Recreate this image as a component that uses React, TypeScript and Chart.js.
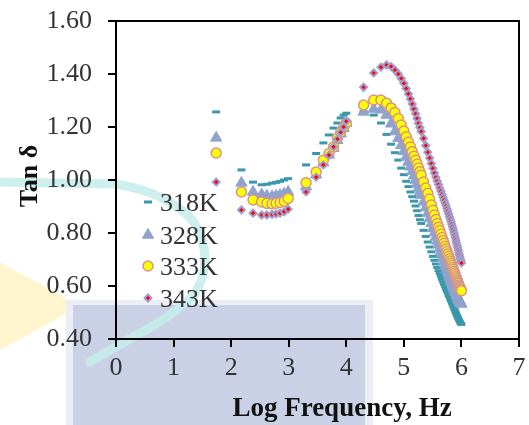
import React, { useEffect, useRef } from 'react';
import { Chart, registerables } from 'chart.js';

Chart.register(...registerables);

// Measurement frequencies (Hz)
const freqHz = [
  55, 151, 240, 339, 417, 513, 603, 708, 832, 977,
  2000, 3000, 4000, 5000, 6000, 7000, 8000, 9000, 10000,
  20000, 30000, 40000, 50000, 60000, 70000, 80000, 90000, 100000, 110000,
  120000, 130000, 140000, 150000, 160000, 170000, 180000, 190000, 200000,
  220000, 240000, 260000, 280000, 300000, 320000, 340000, 360000, 380000, 400000,
  420000, 440000, 460000, 480000, 500000, 520000, 540000, 560000, 580000, 600000,
  620000, 640000, 660000, 680000, 700000, 720000, 740000, 760000, 780000, 800000,
  820000, 840000, 860000, 880000, 900000, 920000, 940000, 960000, 980000, 1000000,
];

const tan318 = [
  1.257, 1.038, 0.992, 0.982, 0.984, 0.988, 0.991, 0.995, 1.0, 1.005,
  1.057, 1.1, 1.14, 1.17, 1.196, 1.215, 1.234, 1.245, 1.252,
  1.258, 1.245, 1.215, 1.172, 1.135, 1.103, 1.075, 1.045, 1.02, 0.995,
  0.975, 0.955, 0.937, 0.92, 0.902, 0.884, 0.866, 0.85, 0.836,
  0.81, 0.787, 0.766, 0.747, 0.729, 0.712, 0.697, 0.683, 0.67, 0.658,
  0.647, 0.636, 0.625, 0.615, 0.606, 0.597, 0.588, 0.58, 0.572, 0.564,
  0.557, 0.55, 0.543, 0.536, 0.53, 0.523, 0.517, 0.511, 0.505, 0.499,
  0.493, 0.488, 0.483, 0.478, 0.473, 0.469, 0.465, 0.461, 0.458, 0.455,
];

const tan328 = [
  1.159, 0.989, 0.955, 0.945, 0.94, 0.938, 0.94, 0.943, 0.948, 0.955,
  0.975, 1.02, 1.065, 1.095, 1.12, 1.15, 1.175, 1.195, 1.215,
  1.257, 1.268, 1.265, 1.245, 1.212, 1.183, 1.157, 1.131, 1.108, 1.087,
  1.068, 1.05, 1.033, 1.016, 1.0, 0.985, 0.97, 0.956, 0.943,
  0.918, 0.896, 0.875, 0.855, 0.836, 0.818, 0.801, 0.785, 0.77, 0.756,
  0.743, 0.73, 0.718, 0.706, 0.695, 0.684, 0.674, 0.664, 0.655, 0.646,
  0.637, 0.629, 0.621, 0.614, 0.607, 0.6, 0.593, 0.587, 0.581, 0.575,
  0.569, 0.564, 0.559, 0.554, 0.549, 0.545, 0.541, 0.537, 0.534, 0.532,
];

const tan333 = [
  1.102, 0.955, 0.925, 0.917, 0.912, 0.91, 0.912, 0.915, 0.92, 0.93,
  0.99, 1.03, 1.075, 1.1, 1.125, 1.158, 1.18, 1.2, 1.215,
  1.283, 1.302, 1.302, 1.29, 1.272, 1.255, 1.232, 1.208, 1.185, 1.163,
  1.143, 1.125, 1.107, 1.09, 1.075, 1.06, 1.045, 1.031, 1.018,
  0.992, 0.97, 0.95, 0.928, 0.906, 0.886, 0.868, 0.851, 0.836, 0.822,
  0.809, 0.796, 0.783, 0.772, 0.761, 0.75, 0.74, 0.73, 0.721, 0.712,
  0.703, 0.694, 0.686, 0.678, 0.67, 0.663, 0.656, 0.649, 0.642, 0.635,
  0.628, 0.622, 0.616, 0.61, 0.604, 0.599, 0.594, 0.59, 0.586, 0.582,
];

const tan343 = [
  0.992, 0.887, 0.875, 0.868, 0.868, 0.87, 0.872, 0.875, 0.88, 0.89,
  0.955, 1.011, 1.057, 1.094, 1.125, 1.155, 1.18, 1.2, 1.222,
  1.35, 1.404, 1.426, 1.434, 1.428, 1.415, 1.4, 1.383, 1.365, 1.345,
  1.325, 1.306, 1.287, 1.268, 1.25, 1.232, 1.214, 1.198, 1.183,
  1.157, 1.13, 1.105, 1.083, 1.062, 1.044, 1.026, 1.01, 0.996, 0.983,
  0.97, 0.958, 0.946, 0.935, 0.924, 0.913, 0.903, 0.892, 0.882, 0.872,
  0.862, 0.852, 0.842, 0.833, 0.823, 0.813, 0.803, 0.793, 0.783, 0.773,
  0.763, 0.754, 0.745, 0.736, 0.727, 0.718, 0.709, 0.701, 0.694, 0.687,
];

const seriesLabels = ['318K', '328K', '333K', '343K'];
const xTitle = 'Log Frequency, Hz';
const yTitle = 'Tan δ';

const SERIF = '"Liberation Serif", "Times New Roman", serif';

const styles = [
  { pointStyle: 'line', radius: 4, bg: '#3A98AA', border: '#3A98AA', bw: 3 },
  { pointStyle: 'triangle', radius: 6.5, bg: '#8FA3CD', border: '#8FA3CD', bw: 1 },
  { pointStyle: 'circle', radius: 5, bg: '#FFFF00', border: '#D8948C', bw: 1.5 },
  { pointStyle: 'rectRot', radius: 3.5, bg: '#FF0000', border: '#A09CCB', bw: 2 },
];

function drawMarker(ctx: CanvasRenderingContext2D, s: any, x: number, y: number) {
  ctx.save();
  ctx.fillStyle = s.bg;
  ctx.strokeStyle = s.border;
  ctx.lineWidth = s.bw;
  ctx.beginPath();
  const r = s.radius;
  if (s.pointStyle === 'line') {
    ctx.moveTo(x - r, y);
    ctx.lineTo(x + r, y);
    ctx.stroke();
  } else if (s.pointStyle === 'triangle') {
    ctx.moveTo(x, y - r);
    ctx.lineTo(x + r * Math.sin(Math.PI * 2 / 3), y - r * Math.cos(Math.PI * 2 / 3));
    ctx.lineTo(x - r * Math.sin(Math.PI * 2 / 3), y - r * Math.cos(Math.PI * 2 / 3));
    ctx.closePath();
    ctx.fill();
    ctx.stroke();
  } else if (s.pointStyle === 'circle') {
    ctx.arc(x, y, r, 0, Math.PI * 2);
    ctx.fill();
    ctx.stroke();
  } else {
    ctx.moveTo(x - r, y);
    ctx.lineTo(x, y - r);
    ctx.lineTo(x + r, y);
    ctx.lineTo(x, y + r);
    ctx.closePath();
    ctx.fill();
    ctx.stroke();
  }
  ctx.restore();
}

const backgroundPlugin = {
  id: 'bgDecor',
  beforeDraw(chart: any) {
    const ctx = chart.ctx as CanvasRenderingContext2D;
    ctx.save();
    ctx.fillStyle = '#FFFFFF';
    ctx.fillRect(0, 0, chart.width, chart.height);
    // yellow triangle
    ctx.fillStyle = '#FFF6CF';
    ctx.beginPath();
    ctx.moveTo(0, 262);
    ctx.lineTo(80, 306);
    ctx.lineTo(0, 350);
    ctx.closePath();
    ctx.fill();
    // blue-gray slab
    ctx.fillStyle = '#ECEEF5';
    ctx.fillRect(66, 300, 307, 125);
    ctx.fillStyle = '#CAD1E6';
    ctx.fillRect(73, 305, 292, 120);
    // cyan arc
    ctx.strokeStyle = 'rgba(196,236,234,0.85)';
    ctx.lineWidth = 9;
    ctx.lineJoin = 'round';
    ctx.lineCap = 'round';
    ctx.beginPath();
    ctx.moveTo(0, 182);
    ctx.lineTo(115, 184);
    ctx.quadraticCurveTo(168, 192, 194, 222);
    ctx.quadraticCurveTo(216, 260, 194, 295);
    ctx.quadraticCurveTo(170, 318, 135, 336);
    ctx.quadraticCurveTo(110, 350, 90, 362);
    ctx.stroke();
    ctx.restore();
  },
};

const overlayPlugin = {
  id: 'overlay',
  afterDraw(chart: any) {
    const ctx = chart.ctx as CanvasRenderingContext2D;
    const a = chart.chartArea;
    ctx.save();
    // frame top and right
    ctx.strokeStyle = '#000';
    ctx.lineWidth = 2;
    ctx.beginPath();
    ctx.moveTo(a.left, a.top);
    ctx.lineTo(a.right, a.top);
    ctx.lineTo(a.right, a.bottom);
    ctx.stroke();
    // axis titles
    ctx.fillStyle = '#111';
    ctx.font = `bold 27px ${SERIF}`;
    ctx.textAlign = 'center';
    ctx.textBaseline = 'alphabetic';
    ctx.fillText(xTitle, 342, 416);
    ctx.save();
    ctx.translate(37, 176);
    ctx.rotate(-Math.PI / 2);
    ctx.font = `bold 26px ${SERIF}`;
    ctx.fillText(yTitle, 0, 0);
    ctx.restore();
    // legend
    const rows = [202, 235, 266, 298];
    ctx.font = `26px ${SERIF}`;
    ctx.fillStyle = '#333';
    ctx.textAlign = 'left';
    seriesLabels.forEach((lab, i) => {
      drawMarker(ctx, styles[i], 148, rows[i]);
      ctx.fillText(lab, 160, rows[i] + 9);
    });
    ctx.restore();
  },
};

export default function App() {
  const ref = useRef<HTMLCanvasElement>(null);
  useEffect(() => {
    if (!ref.current) return;
    const series = [tan318, tan328, tan333, tan343];
    const datasets = series.map((vals, i) => ({
      label: seriesLabels[i],
      data: freqHz.map((f, j) => ({ x: Math.log10(f), y: vals[j] })),
      showLine: false,
      pointStyle: styles[i].pointStyle as any,
      pointRadius: styles[i].radius,
      pointBackgroundColor: styles[i].bg,
      pointBorderColor: styles[i].border,
      pointBorderWidth: styles[i].bw,
      order: 4 - i,
    }));
    const chart = new Chart(ref.current, {
      type: 'scatter',
      data: { datasets },
      options: {
        animation: false,
        responsive: false,
        devicePixelRatio: 1,
        layout: { padding: { top: 21, right: 10, left: 0, bottom: 0 } },
        plugins: { legend: { display: false }, tooltip: { enabled: false } },
        scales: {
          x: {
            type: 'linear',
            min: 0,
            max: 7,
            afterFit: (s: any) => { s.height = 86; s.paddingLeft = 0; s.paddingRight = 0; },
            ticks: { stepSize: 1, color: '#333', font: { family: SERIF, size: 26 }, padding: 6, maxRotation: 0 },
            grid: { drawOnChartArea: false, drawTicks: true, tickLength: 8, color: '#000', lineWidth: 2 },
            border: { display: true, color: '#000', width: 2 },
          },
          y: {
            min: 0.4,
            max: 1.6,
            afterFit: (s: any) => { s.width = 116; s.paddingTop = 0; s.paddingBottom = 0; },
            ticks: {
              stepSize: 0.2,
              color: '#333',
              font: { family: SERIF, size: 26 },
              padding: 16,
              callback: (v: any) => Number(v).toFixed(2),
            },
            grid: { drawOnChartArea: false, drawTicks: true, tickLength: 8, color: '#000', lineWidth: 2 },
            border: { display: true, color: '#000', width: 2 },
          },
        },
      },
      plugins: [backgroundPlugin, overlayPlugin],
    });
    return () => chart.destroy();
  }, []);
  return (
    <div style={{ position: 'absolute', left: 0, top: 0, width: 529, height: 425 }}>
      <canvas ref={ref} width={529} height={425} style={{ width: 529, height: 425, display: 'block' }} />
    </div>
  );
}
